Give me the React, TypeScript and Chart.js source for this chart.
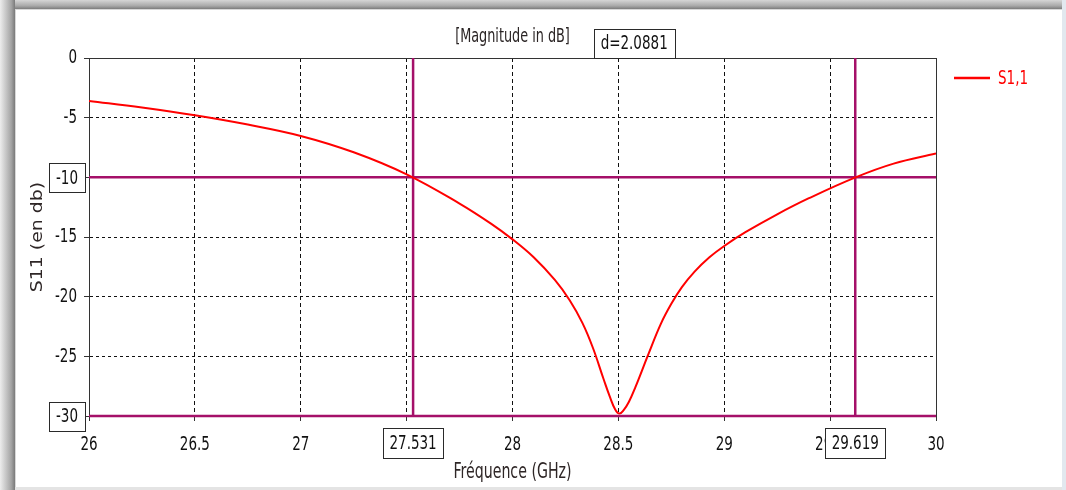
import React, { useEffect, useRef } from "react";
import { Chart, registerables } from "chart.js";

Chart.register(...registerables);

// ---- data ----
const freqGHz = [26, 26.25, 26.5, 26.75, 27, 27.25, 27.5, 27.75, 27.9, 28, 28.1, 28.2, 28.27, 28.33, 28.38, 28.43, 28.46, 28.485, 28.505, 28.525, 28.55, 28.58, 28.64, 28.7, 28.75, 28.8, 28.86, 28.93, 29, 29.1, 29.25, 29.4, 29.62, 29.8, 30];
const s11dB = [-3.6, -4.15, -4.8, -5.58, -6.53, -7.9, -9.75, -12.2, -13.9, -15.2, -16.7, -18.6, -20.3, -22.2, -24.3, -26.9, -28.4, -29.45, -29.8, -29.5, -28.8, -27.6, -24.9, -22.3, -20.6, -19.2, -17.9, -16.7, -15.75, -14.6, -13.1, -11.75, -10.0, -8.85, -8.0];
const markerFreqs = [27.53054, 29.61864];
const markerLevels = [-10, -30];
const xTicks = [26, 26.5, 27, 27.5, 28, 28.5, 29, 29.5, 30];
const yTicks = [0, -5, -10, -15, -20, -25, -30];
const seriesLabel = "S1,1";
const chartTitle = "[Magnitude in dB]";
const xTitle = "Fréquence (GHz)";
const yTitle = "S11 (en db)";

const FONT = "'DejaVu Sans Condensed', 'DejaVu Sans', sans-serif";
const SQUASH = 0.75; // horizontal text compression seen in the reference
const MARKER_COLOR = "rgb(165, 16, 105)";
const CURVE_COLOR = "#ff0000";
const TEXT_COLOR = "#111111";

function squashText(ctx: any) {
  if (ctx.__squashed) return;
  ctx.__squashed = true;
  const orig = ctx.fillText;
  ctx.fillText = function (text: string, x: number, y: number, maxWidth?: number) {
    const m = this.getTransform();
    const rotated = Math.abs(m.b) > Math.abs(m.a);
    this.save();
    this.translate(x, y);
    if (rotated) this.scale(1, SQUASH);
    else this.scale(SQUASH, 1);
    if (maxWidth === undefined) orig.call(this, text, 0, 0);
    else orig.call(this, text, 0, 0, maxWidth / SQUASH);
    this.restore();
  };
}

const overlayPlugin = {
  id: "overlay",
  beforeDraw(chart: any) {
    const { ctx, width, height } = chart;
    ctx.save();
    ctx.fillStyle = "#ffffff";
    ctx.fillRect(0, 0, width, height);
    let g = ctx.createLinearGradient(0, 0, 0, 9);
    g.addColorStop(0, "#d6d6d6");
    g.addColorStop(0.65, "#a9a9a9");
    g.addColorStop(1, "#7c7c7c");
    ctx.fillStyle = g;
    ctx.fillRect(0, 0, 1062, 9);
    g = ctx.createLinearGradient(0, 0, 15, 0);
    g.addColorStop(0, "#ededed");
    g.addColorStop(0.75, "#a4a4a4");
    g.addColorStop(1, "#7a7a7a");
    ctx.fillStyle = g;
    ctx.fillRect(0, 0, 15, height);
    ctx.fillStyle = "#d8d8d8";
    ctx.fillRect(15, 9, 1, height - 9);
    ctx.fillRect(15, 9, 1047, 1);
    ctx.fillStyle = "#e2e8ef";
    ctx.fillRect(1062, 0, 4, height);
    ctx.fillStyle = "#e4e4e4";
    ctx.fillRect(15, 487, 1047, 3);
    ctx.restore();
  },
  beforeDatasetsDraw(chart: any) {
    const { ctx, chartArea } = chart;
    ctx.save();
    ctx.strokeStyle = "#333333";
    ctx.lineWidth = 1;
    ctx.strokeRect(Math.round(chartArea.left) + 0.5, Math.round(chartArea.top) + 0.5,
      Math.round(chartArea.right - chartArea.left), Math.round(chartArea.bottom - chartArea.top));
    ctx.restore();
  },
  afterDraw(chart: any) {
    const { ctx, chartArea, scales } = chart;
    const xs = scales.x;
    const ys = scales.y;
    ctx.save();
    const box = (cx: number, cy: number, w: number, h: number, text: string) => {
      const x0 = Math.round(cx - w / 2) + 0.5;
      const y0 = Math.round(cy - h / 2) + 0.5;
      ctx.fillStyle = "#ffffff";
      ctx.fillRect(x0, y0, w, h);
      ctx.strokeStyle = "#2a2a2a";
      ctx.lineWidth = 1;
      ctx.strokeRect(x0, y0, w, h);
      ctx.fillStyle = TEXT_COLOR;
      ctx.font = `20px ${FONT}`;
      ctx.textAlign = "center";
      ctx.textBaseline = "middle";
      ctx.fillText(text, cx, cy + 1);
    };
    // title
    ctx.fillStyle = "#2a2424";
    ctx.font = `19px ${FONT}`;
    ctx.textAlign = "center";
    ctx.textBaseline = "middle";
    ctx.fillText(chartTitle, (chartArea.left + chartArea.right) / 2, 37);

    markerLevels.forEach((v) => {
      box(67, ys.getPixelForValue(v), 36, 29, String(v));
    });
    markerFreqs.forEach((f) => {
      box(xs.getPixelForValue(f), 443, 60, 30, f.toFixed(3));
    });
    const px0 = xs.getPixelForValue(markerFreqs[0]);
    const px1 = xs.getPixelForValue(markerFreqs[1]);
    box((px0 + px1) / 2, chartArea.top - 15, 81, 29, "d=" + (markerFreqs[1] - markerFreqs[0]).toFixed(4));

    // legend
    const ly = 78;
    ctx.strokeStyle = CURVE_COLOR;
    ctx.lineWidth = 2.5;
    ctx.beginPath();
    ctx.moveTo(954, ly);
    ctx.lineTo(990, ly);
    ctx.stroke();
    ctx.fillStyle = CURVE_COLOR;
    ctx.font = `20px ${FONT}`;
    ctx.textAlign = "left";
    ctx.textBaseline = "middle";
    ctx.fillText(seriesLabel, 998, ly + 1);
    ctx.restore();
  },
};

export default function App() {
  const ref = useRef<HTMLCanvasElement | null>(null);
  useEffect(() => {
    if (!ref.current) return;
    squashText(ref.current.getContext("2d"));
    const markerDatasets: any[] = [];
    markerFreqs.forEach((f) => {
      markerDatasets.push({
        label: "",
        data: [{ x: f, y: yTicks[0] }, { x: f, y: yTicks[yTicks.length - 1] }],
        borderColor: MARKER_COLOR,
        borderWidth: 2.5,
        pointRadius: 0,
        clip: false,
      });
    });
    markerLevels.forEach((v) => {
      markerDatasets.push({
        label: "",
        data: [{ x: xTicks[0], y: v }, { x: xTicks[xTicks.length - 1], y: v }],
        borderColor: MARKER_COLOR,
        borderWidth: 2.5,
        pointRadius: 0,
        clip: false,
      });
    });
    const chart = new Chart(ref.current, {
      type: "line",
      data: {
        datasets: [
          {
            label: seriesLabel,
            data: freqGHz.map((x, i) => ({ x, y: s11dB[i] })),
            borderColor: CURVE_COLOR,
            borderWidth: 2,
            pointRadius: 0,
            tension: 0.4,
          },
          ...markerDatasets,
        ],
      },
      options: {
        animation: false,
        responsive: false,
        devicePixelRatio: 1,
        layout: { padding: { left: 18, right: 130, top: 58, bottom: 5 } },
        plugins: {
          legend: { display: false },
          title: { display: false },
          tooltip: { enabled: false },
        },
        scales: {
          x: {
            type: "linear",
            min: xTicks[0],
            max: xTicks[xTicks.length - 1],
            afterBuildTicks: (s: any) => {
              s.ticks = xTicks.map((v) => ({ value: v }));
            },
            afterFit: (s: any) => {
              s.height = 69;
            },
            ticks: {
              autoSkip: false,
              maxRotation: 0,
              padding: 10,
              color: TEXT_COLOR,
              font: { family: FONT, size: 20 },
              callback: (v: any) => String(v),
            },
            grid: {
              color: "#111111",
              lineWidth: 1,
              tickLength: 7,
              tickColor: "#333333",
              tickBorderDash: [4, 3],
            },
            border: { display: true, color: "#333333", dash: [4, 3] },
            title: {
              display: true,
              text: xTitle,
              color: "#2e2626",
              font: { family: FONT, size: 21 },
              padding: { top: 0, bottom: 0 },
            },
          },
          y: {
            type: "linear",
            min: yTicks[yTicks.length - 1],
            max: yTicks[0],
            afterBuildTicks: (s: any) => {
              s.ticks = yTicks.map((v) => ({ value: v }));
            },
            afterFit: (s: any) => {
              s.width = 71;
            },
            ticks: {
              autoSkip: false,
              padding: 7,
              color: TEXT_COLOR,
              font: { family: FONT, size: 20 },
              callback: (v: any) => String(v),
            },
            grid: {
              color: "#111111",
              lineWidth: 1,
              tickLength: 5,
              tickColor: "#333333",
            },
            border: { display: true, color: "#333333", dash: [3, 3] },
            title: {
              display: true,
              text: yTitle,
              color: "#2e2626",
              font: { family: FONT, size: 21 },
              padding: { top: 7, bottom: 0 },
            },
          },
        },
      },
      plugins: [overlayPlugin],
    } as any);
    return () => chart.destroy();
  }, []);
  return (
    <div style={{ position: "fixed", left: 0, top: 0, width: 1066, height: 490 }}>
      <canvas ref={ref} width={1066} height={490} style={{ display: "block", width: 1066, height: 490 }} />
    </div>
  );
}
